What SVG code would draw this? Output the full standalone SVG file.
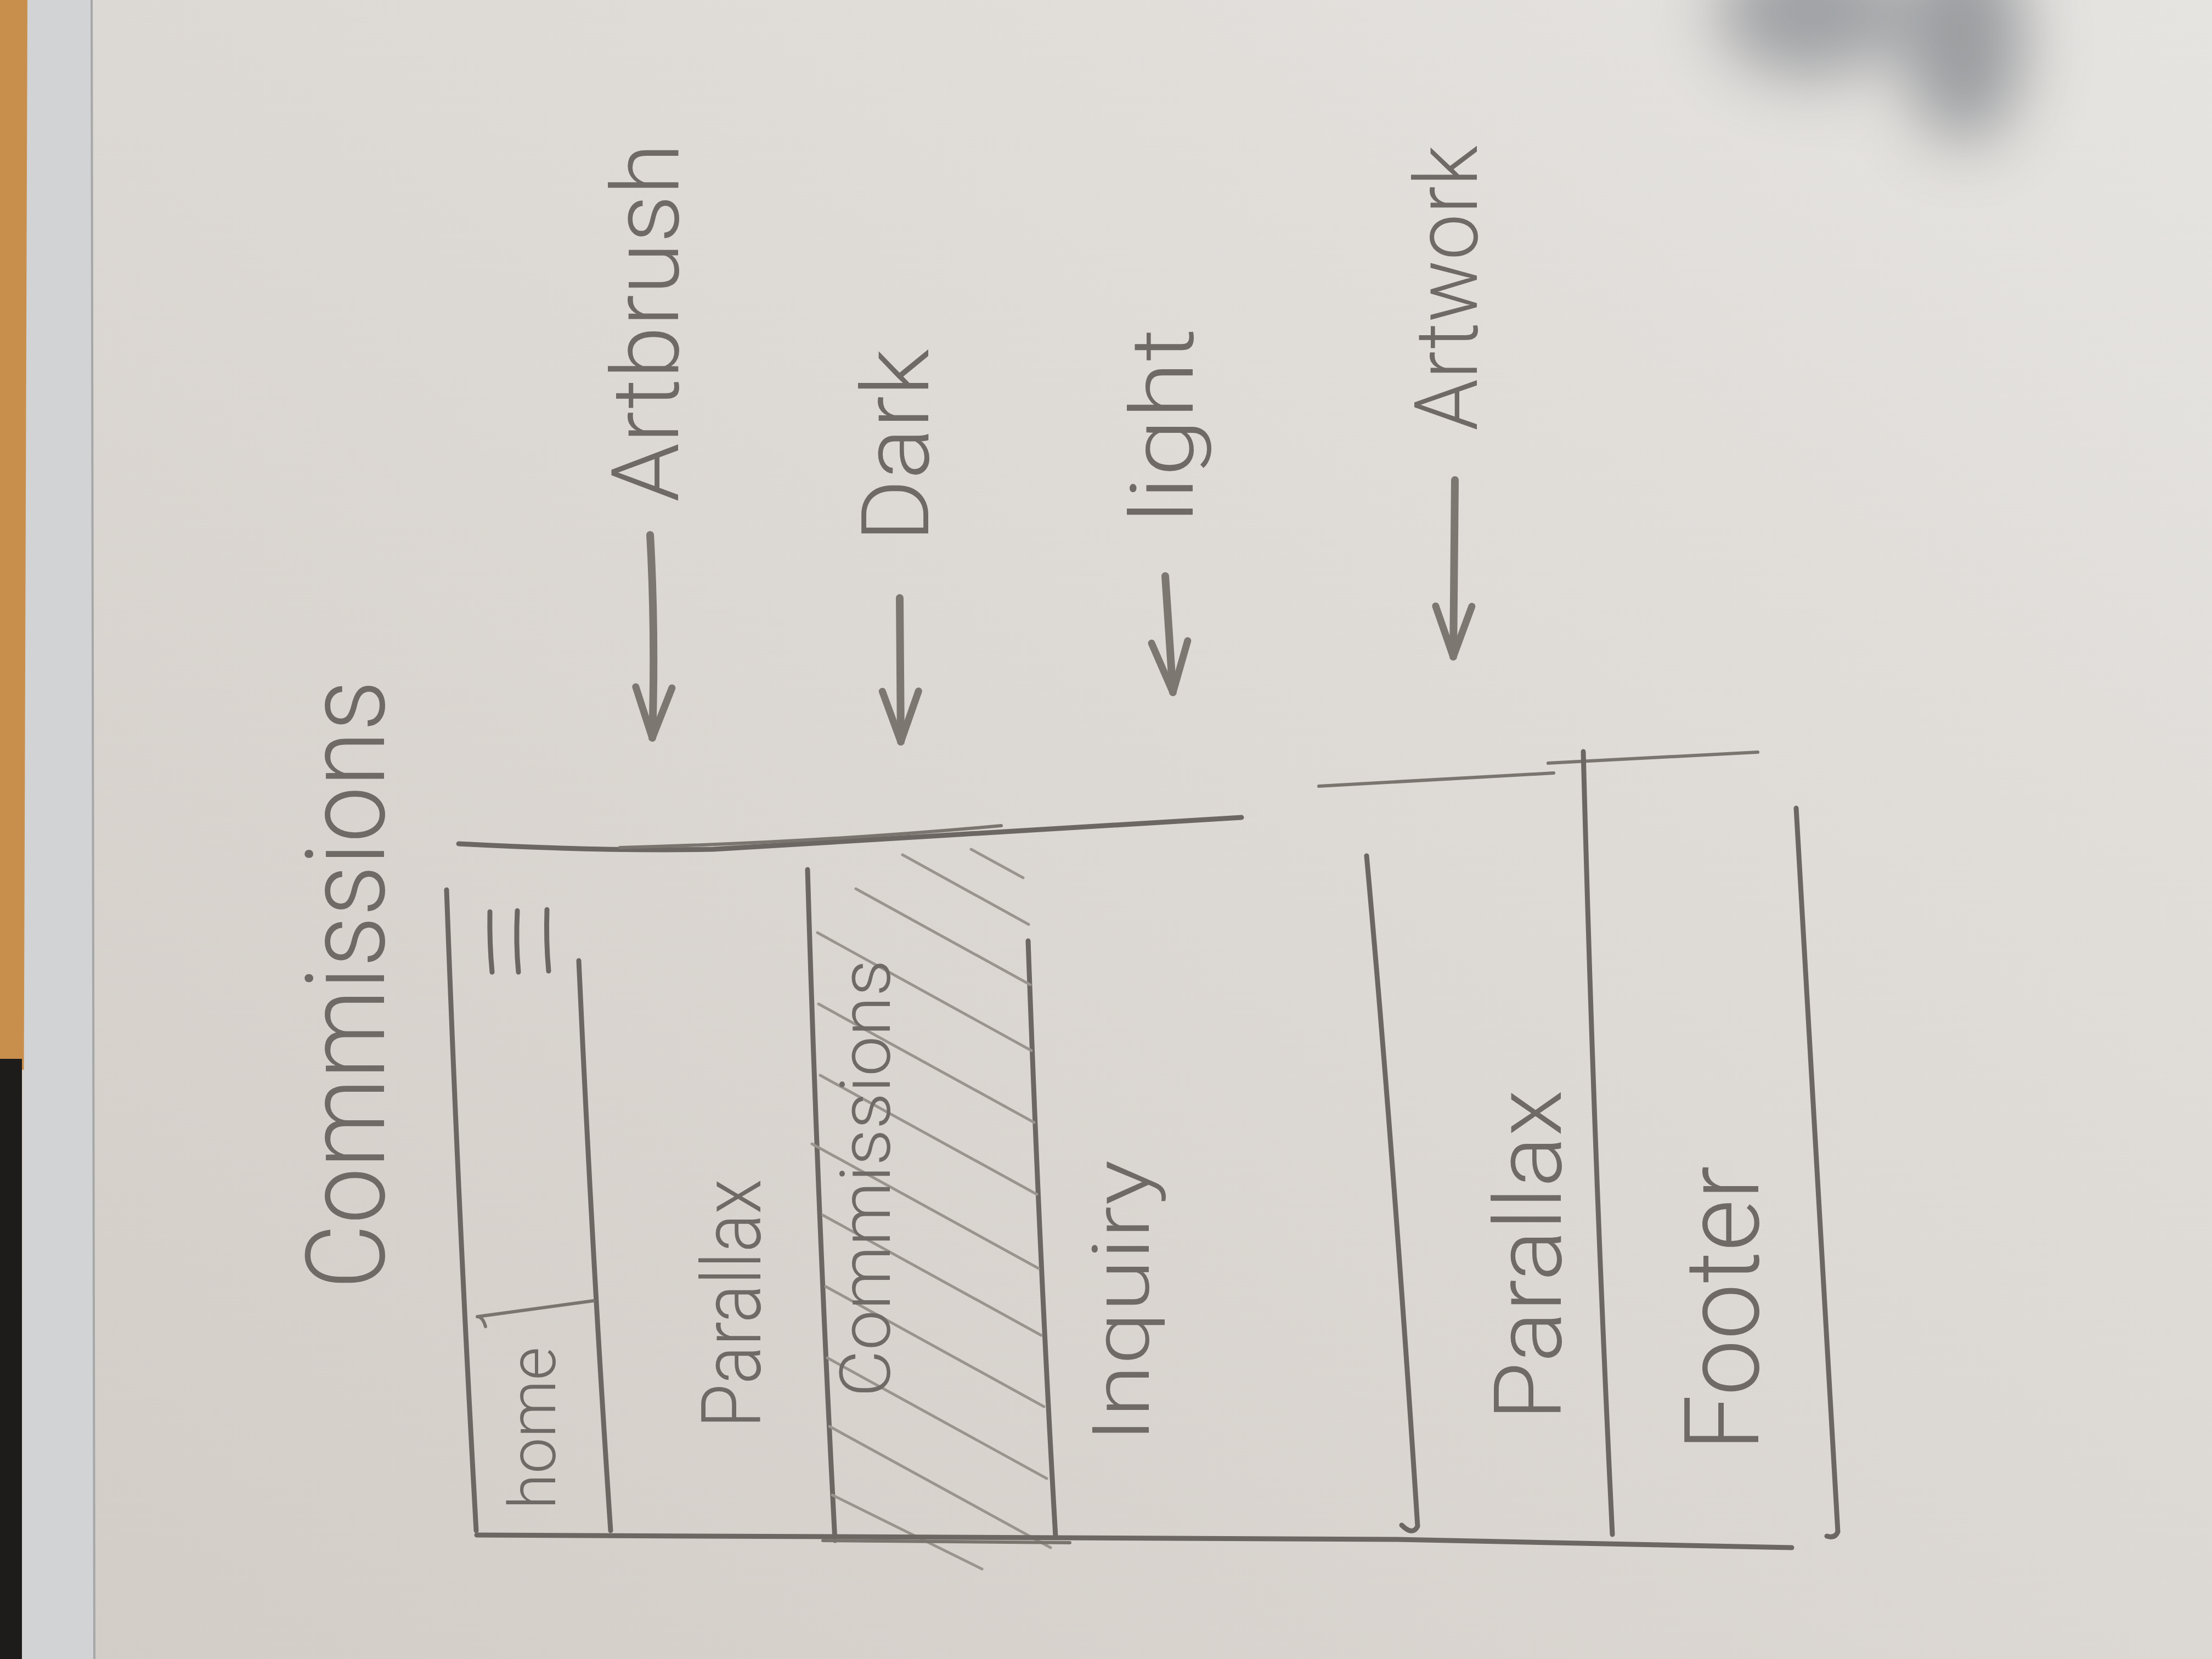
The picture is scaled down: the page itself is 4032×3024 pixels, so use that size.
<svg xmlns="http://www.w3.org/2000/svg" width="4032" height="3024" viewBox="0 0 4032 3024">
<style>
.ln{fill:none;stroke:#6c6762;stroke-width:9;stroke-linecap:round;stroke-linejoin:round}
.lt{fill:none;stroke:#7a756f;stroke-width:6;stroke-linecap:round}
.hat{fill:none;stroke:#9a948e;stroke-width:5;stroke-linecap:round}
.tx{font-family:Roboto,Lato,"Liberation Sans",sans-serif;font-weight:300;fill:#6f6a65;text-anchor:middle}
.arr{fill:none;stroke:#7d7772;stroke-width:14;stroke-linecap:round}
</style>
<defs>
<linearGradient id="paper" x1="0" y1="1" x2="1" y2="0">
<stop offset="0" stop-color="#d2cdc7"/>
<stop offset="0.5" stop-color="#dcd8d3"/>
<stop offset="1" stop-color="#e6e4e1"/>
</linearGradient>
<filter id="blur" x="-80%" y="-80%" width="260%" height="260%"><feGaussianBlur stdDeviation="60"/></filter>
<marker id="head" viewBox="0 0 110 110" refX="100" refY="55" markerWidth="110" markerHeight="110" markerUnits="userSpaceOnUse" orient="auto">
<path d="M8,22 L100,55 L8,88" fill="none" stroke="#7d7772" stroke-width="13" stroke-linecap="round" stroke-linejoin="round"/>
</marker>
</defs>

<!-- background -->
<rect x="0" y="0" width="4032" height="3024" fill="url(#paper)"/>
<rect x="0" y="0" width="50" height="1950" fill="#c88f4c"/>
<rect x="0" y="1930" width="40" height="1094" fill="#1e1c1b"/>
<polygon points="50,0 165,0 172,3024 40,3024" fill="#d2d3d4"/>
<line x1="167" y1="0" x2="172" y2="3024" stroke="#a6a7a8" stroke-width="4"/>
<g filter="url(#blur)" opacity="0.5">
<ellipse cx="3300" cy="20" rx="170" ry="120" fill="#5a616b"/>
<ellipse cx="3580" cy="70" rx="110" ry="190" fill="#4f5661"/>
</g>

<!-- title -->
<g id="title">
<text class="tx" font-size="200" textLength="1110" lengthAdjust="spacingAndGlyphs" transform="translate(700,1795) rotate(-90)">Commissions</text>
</g>

<!-- frame 1: top page -->
<g id="frame-top-lines">
<path class="ln" d="M836,1538 Q1100,1552 1300,1548 L2263,1490"/>
<path class="lt" d="M1130,1545 Q1500,1535 1825,1505"/>
</g>

<g id="node-home-nav">
<path class="ln" d="M814,1622 Q835,2200 868,2790"/>
<path class="ln" d="M1055,1751 Q1080,2300 1113,2790"/>
<path class="lt" d="M885,2418 Q880,2400 870,2400 M870,2400 L1082,2371"/>
<path class="ln" d="M893,1662 Q892,1720 897,1772 M943,1660 Q940,1720 945,1772 M997,1658 Q995,1715 1000,1770"/>
<text class="tx" font-size="118" textLength="296" lengthAdjust="spacingAndGlyphs" transform="translate(1012,2603) rotate(-90)">home</text>
</g>

<g id="node-parallax-1">
<text class="tx" font-size="150" textLength="454" lengthAdjust="spacingAndGlyphs" transform="translate(1386,2376) rotate(-90)">Parallax</text>
</g>

<g id="node-commissions">
<path class="ln" d="M1472,1585 Q1490,2200 1522,2808"/>
<path class="ln" d="M1874,1715 Q1895,2300 1924,2800"/>
<g class="hat-lines">
<path class="hat" d="M1770,1548 L1865,1600"/>
<path class="hat" d="M1645,1558 L1875,1685"/>
<path class="hat" d="M1560,1620 L1878,1795"/>
<path class="hat" d="M1490,1700 L1880,1915"/>
<path class="hat" d="M1492,1830 L1885,2046"/>
<path class="hat" d="M1495,1960 L1890,2177"/>
<path class="hat" d="M1480,2085 L1893,2312"/>
<path class="hat" d="M1500,2215 L1898,2434"/>
<path class="hat" d="M1505,2345 L1903,2564"/>
<path class="hat" d="M1508,2475 L1908,2695"/>
<path class="hat" d="M1512,2600 L1915,2821"/>
<path class="hat" d="M1517,2725 L1790,2860"/>
</g>
<text class="tx" font-size="128" textLength="797" lengthAdjust="spacingAndGlyphs" transform="translate(1622,2148) rotate(-90)">Commissions</text>
</g>

<g id="node-inquiry">
<text class="tx" font-size="145" textLength="515" lengthAdjust="spacingAndGlyphs" transform="translate(2094,2372) rotate(-90)">Inquiry</text>
</g>

<g id="frame-bottom-line">
<path class="ln" d="M869,2798 L1928,2803 L2546,2806 L3266,2821"/>
<path class="lt" d="M1500,2808 L1950,2812"/>
</g>

<!-- frame 2 -->
<g id="node-parallax-2">
<path class="lt" d="M2404,1433 L2832,1409"/>
<path class="ln" d="M2491,1560 Q2540,2100 2584,2782 Q2575,2800 2555,2780"/>
<text class="tx" font-size="170" textLength="603" lengthAdjust="spacingAndGlyphs" transform="translate(2845,2288) rotate(-90)">Parallax</text>
</g>

<g id="node-footer">
<path class="lt" d="M2822,1391 L3204,1371"/>
<path class="ln" d="M2886,1370 Q2905,2100 2939,2797"/>
<path class="ln" d="M3274,1473 Q3310,2100 3350,2792 Q3345,2805 3330,2800"/>
<text class="tx" font-size="190" textLength="520" lengthAdjust="spacingAndGlyphs" transform="translate(3205,2385) rotate(-90)">Footer</text>
</g>

<!-- annotations -->
<g id="label-artbrush">
<text class="tx" font-size="170" textLength="654" lengthAdjust="spacingAndGlyphs" transform="translate(1236,588) rotate(-90)">Artbrush</text>
</g>
<g id="label-dark">
<text class="tx" font-size="170" textLength="352" lengthAdjust="spacingAndGlyphs" transform="translate(1692,812) rotate(-90)">Dark</text>
</g>
<g id="label-light">
<text class="tx" font-size="160" textLength="356" lengthAdjust="spacingAndGlyphs" transform="translate(2174,776) rotate(-90)">light</text>
</g>
<g id="label-artwork">
<text class="tx" font-size="160" textLength="520" lengthAdjust="spacingAndGlyphs" transform="translate(2692,525) rotate(-90)">Artwork</text>
</g>

<g id="connectors">
<path class="arr" d="M1185,975 Q1195,1150 1189,1345" marker-end="url(#head)"/>
<path class="arr" d="M1640,1090 L1642,1352" marker-end="url(#head)"/>
<path class="arr" d="M2124,1050 L2138,1262" marker-end="url(#head)"/>
<path class="arr" d="M2652,875 L2649,1197" marker-end="url(#head)"/>
</g>
</svg>
